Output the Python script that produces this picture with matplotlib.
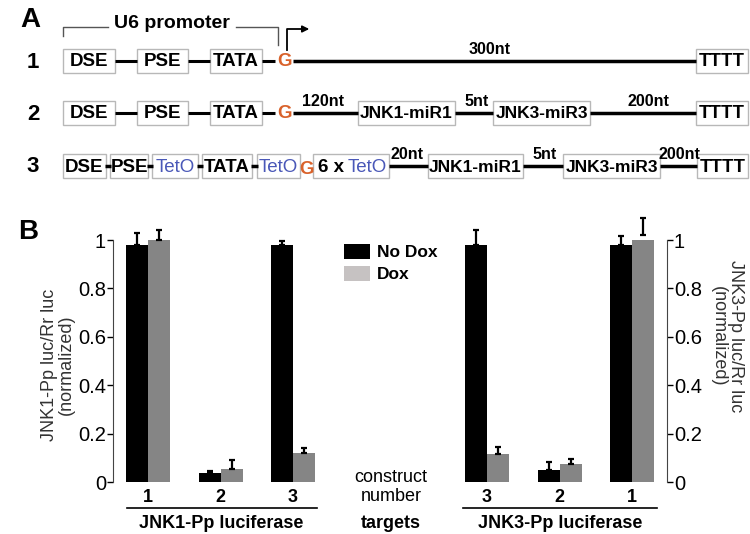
import matplotlib.pyplot as plt
from matplotlib.patches import Rectangle, Patch

plt.rcParams['font.family'] = ['Liberation Sans', 'DejaVu Sans']

# ---- panel B data ----
constructs_jnk1 = ["1", "2", "3"]
nodox_jnk1 = [0.98, 0.037, 0.98]
nodox_jnk1_err = [0.05, 0.01, 0.015]
dox_jnk1 = [1.0, 0.053, 0.118]
dox_jnk1_err = [0.04, 0.037, 0.022]

constructs_jnk3 = ["3", "2", "1"]
nodox_jnk3 = [0.98, 0.05, 0.98]
nodox_jnk3_err = [0.06, 0.033, 0.035]
dox_jnk3 = [0.115, 0.075, 1.02]
dox_jnk3_err = [0.028, 0.02, 0.07]

yticks = [0, 0.2, 0.4, 0.6, 0.8, 1]
yticklabels = ["0", "0.2", "0.4", "0.6", "0.8", "1"]
legend_labels = ["No Dox", "Dox"]

# ---- panel A labels ----
row1_boxes = ["DSE", "PSE", "TATA", "TTTT"]
row2_boxes = ["DSE", "PSE", "TATA", "JNK1-miR1", "JNK3-miR3", "TTTT"]
row3_boxes = ["DSE", "PSE", "TetO", "TATA", "TetO", "6 x TetO", "JNK1-miR1", "JNK3-miR3", "TTTT"]
row1_spacers = ["300nt"]
row2_spacers = ["120nt", "5nt", "200nt"]
row3_spacers = ["20nt", "5nt", "200nt"]

W, H = 750, 534
fig = plt.figure(figsize=(7.5, 5.34), dpi=100)

# overlay in pixel coords
ov = fig.add_axes([0, 0, 1, 1])
ov.set_xlim(0, W)
ov.set_ylim(H, 0)
ov.set_axis_off()

BLUE = "#4a58b8"
ORANGE = "#d9622b"


def box(x0, x1, yc, label, size=13.5, color="black", hh=12, weight="bold"):
    ov.add_patch(Rectangle((x0, yc - hh), x1 - x0, 2 * hh, fill=False,
                           edgecolor="#b8b8b8", lw=1))
    if label is not None:
        if "miR" in label:
            size = 12.5
        ov.text((x0 + x1) / 2, yc + 1, label, ha="center", va="center",
                fontsize=size, fontweight=weight, color=color)


def hline(x0, x1, y, lw=2.2):
    ov.plot([x0, x1], [y, y], color="black", lw=lw, solid_capstyle="butt")


# row positions
y1, y2, y3 = 61, 113, 166
pos1 = [(63, 115), (137, 188), (210, 262), (696, 748)]
pos2 = [(63, 115), (137, 188), (210, 262), (358, 455), (493, 590), (696, 748)]
pos3 = [(63, 106), (110, 148), (152, 198), (202, 252), (257, 300), (313, 389),
        (428, 523), (563, 660), (697, 748)]

for lab, (a, b) in zip(row1_boxes, pos1):
    box(a, b, y1, lab)
for lab, (a, b) in zip(row2_boxes, pos2):
    box(a, b, y2, lab)
for lab, (a, b) in zip(row3_boxes, pos3):
    if lab == "6 x TetO":
        box(a, b, y3, None)
        ov.text(a + 5, y3 + 1, "6 x ", ha="left", va="center", fontsize=13.5,
                fontweight="bold")
        ov.text(b - 2, y3 + 1, "TetO", ha="right", va="center", fontsize=13.5,
                color=BLUE)
    elif lab == "TetO":
        box(a, b, y3, lab, color=BLUE, weight="normal")
    else:
        box(a, b, y3, lab)

# connectors
for yc in (y1, y2):
    hline(115, 137, yc)
    hline(188, 210, yc)
    hline(262, 275, yc)
    ov.text(284, yc + 1, "G", ha="center", va="center", fontsize=13.5,
            fontweight="bold", color=ORANGE)
hline(293, 696, y1, lw=2.5)
hline(293, 358, y2, lw=2.5)
hline(455, 493, y2, lw=2.5)
hline(590, 696, y2, lw=2.5)
for a, b in [(106, 110), (148, 152), (198, 202), (252, 257)]:
    hline(a - 1, b + 1, y3, lw=2.5)
ov.text(306, y3 + 3, "G", ha="center", va="center", fontsize=13.5,
        fontweight="bold", color=ORANGE)
hline(389, 428, y3, lw=2.5)
hline(523, 563, y3, lw=2.5)
hline(660, 697, y3, lw=2.5)

# spacer labels
for lab, x in zip(row1_spacers, [490]):
    ov.text(x, y1 - 4, lab, ha="center", va="bottom", fontsize=11.5,
            fontweight="bold")
for lab, x in zip(row2_spacers, [323, 477, 648]):
    ov.text(x, y2 - 4, lab, ha="center", va="bottom", fontsize=11.5,
            fontweight="bold")
for lab, x in zip(row3_spacers, [407, 545, 679]):
    ov.text(x, y3 - 4, lab, ha="center", va="bottom", fontsize=11.5,
            fontweight="bold")

# row numbers and panel letters
for lab, yc in zip(["1", "2", "3"], [y1, y2, y3]):
    ov.text(33, yc + 1, lab, ha="center", va="center", fontsize=16,
            fontweight="bold")
ov.text(20, 20, "A", ha="left", va="center", fontsize=20, fontweight="bold")
ov.text(18, 232, "B", ha="left", va="center", fontsize=20, fontweight="bold")

# U6 promoter bracket and TSS arrow
ov.plot([63, 63, 108], [36, 27, 27], color="#555555", lw=1)
ov.plot([236, 278, 278], [27, 27, 45], color="#555555", lw=1)
ov.text(172, 23, "U6 promoter", ha="center", va="center", fontsize=14,
        fontweight="bold")
ov.plot([287, 287, 303], [50, 29, 29], color="black", lw=1.3)
ov.annotate("", xy=(312, 29), xytext=(300, 29),
            arrowprops=dict(arrowstyle="-|>", color="black", lw=1.2,
                            mutation_scale=10))

# ---- panel B bars ----
def px_rect(x0, x1, y_top=240, y_bot=482):
    return [x0 / W, 1 - y_bot / H, (x1 - x0) / W, (y_bot - y_top) / H]


spacing = 72.5
bw = 22 / spacing

axL = fig.add_axes(px_rect(113, 330))
axL.set_xlim(-(148 - 113) / spacing, 2 + (330 - 293) / spacing)
axR = fig.add_axes(px_rect(455, 667))
axR.set_xlim(-(487 - 455) / spacing, 2 + (667 - 632) / spacing)

groups = [
    (axL, constructs_jnk1, nodox_jnk1, nodox_jnk1_err, dox_jnk1, dox_jnk1_err),
    (axR, constructs_jnk3, nodox_jnk3, nodox_jnk3_err, dox_jnk3, dox_jnk3_err),
]
for ax, labs, nd, nde, d, de in groups:
    x = list(range(len(labs)))
    xn = [i - bw / 2 for i in x]
    xd = [i + bw / 2 for i in x]
    ax.bar(xn, nd, width=bw, color="black", zorder=2)
    ax.bar(xd, d, width=bw, color="#858585", zorder=2)
    ax.errorbar(xn, nd, yerr=[[0] * len(nd), nde], fmt="none", ecolor="black",
                elinewidth=1.6, capsize=2.5, capthick=1.6, clip_on=False, zorder=3)
    ax.errorbar(xd, d, yerr=[[0] * len(d), de], fmt="none", ecolor="black",
                elinewidth=1.6, capsize=2.5, capthick=1.6, clip_on=False, zorder=3)
    ax.set_ylim(0, 1)
    ax.set_yticks(yticks)
    ax.set_yticklabels(yticklabels, fontsize=14.5)
    ax.set_xticks(x)
    ax.set_xticklabels(labs, fontsize=13, fontweight="bold")
    ax.tick_params(axis="x", length=0, pad=5)
    ax.tick_params(axis="y", length=4, width=1, pad=1)
    ax.patch.set_alpha(0)
    for s in ("top", "bottom"):
        ax.spines[s].set_visible(False)

axL.spines["right"].set_visible(False)
axL.spines["left"].set_color("#444444")
axR.spines["left"].set_visible(False)
axR.spines["right"].set_color("#444444")
axR.yaxis.tick_right()

# y-axis titles
ov.text(58, 365, "JNK1-Pp luc/Rr luc\n(normalized)", ha="center", va="center",
        rotation=90, fontsize=13, color="#333333", linespacing=1.0)
ov.text(727, 336, "JNK3-Pp luc/Rr luc\n(normalized)", ha="center", va="center",
        rotation=270, fontsize=13, color="#333333", linespacing=1.0)

# target underline and labels
ov.plot([127, 317], [508, 508], color="black", lw=1.2)
ov.plot([463, 657], [508, 508], color="black", lw=1.2)
ov.text(221, 523, "JNK1-Pp luciferase", ha="center", va="center", fontsize=13,
        fontweight="bold")
ov.text(560, 523, "JNK3-Pp luciferase", ha="center", va="center", fontsize=13,
        fontweight="bold")
ov.text(391, 487, "construct\nnumber", ha="center", va="center", fontsize=13,
        linespacing=1.1)
ov.text(391, 523, "targets", ha="center", va="center", fontsize=13,
        fontweight="bold")

# legend
handles = [Patch(facecolor="black"), Patch(facecolor="#c6c2c2")]
fig.legend(handles, legend_labels, loc="upper left",
           bbox_to_anchor=(328 / W, 1 - 228 / H), frameon=False,
           prop={"size": 12.5, "weight": "bold"}, handlelength=1.5,
           handleheight=1.0, handletextpad=0.4, labelspacing=0.3)

fig.savefig("out.png", dpi=100)
